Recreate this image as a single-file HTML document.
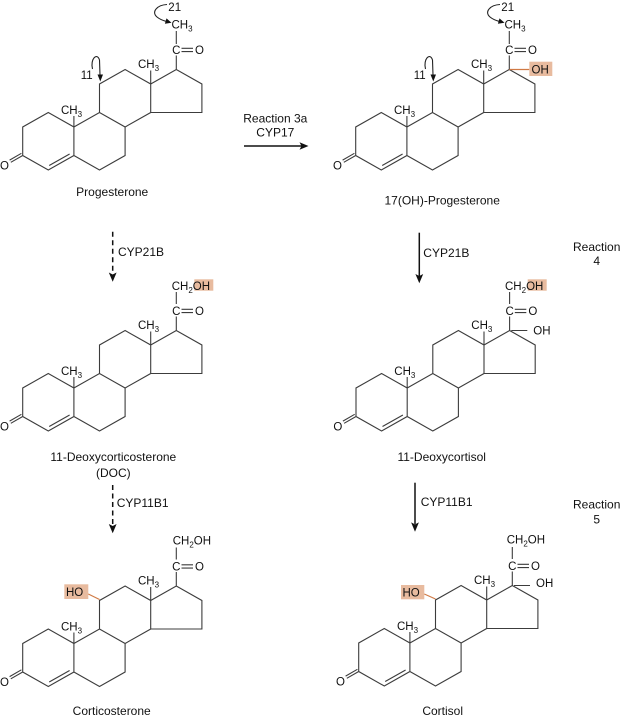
<!DOCTYPE html>
<html><head><meta charset="utf-8"><style>
html,body{margin:0;padding:0;background:#fff;}
svg{display:block;}
text{font-family:"Liberation Sans",Arial,sans-serif;fill:#111;}
.at{font-size:11.5px;}
.lb{font-size:12px;}
.sk{fill:none;stroke:#3c3c3c;stroke-width:1.1;stroke-linejoin:miter;}
.ar{fill:none;stroke:#111;stroke-width:1.5;}
.cv{fill:none;stroke:#222;stroke-width:1.1;}
.hl{fill:#e8bb9f;}
.ol{stroke:#d07a45;stroke-width:1.2;fill:none;}
</style></head><body>
<svg width="622" height="718" viewBox="0 0 622 718" xmlns="http://www.w3.org/2000/svg">

<!-- M1 Progesterone -->
<g transform="translate(0,0)">
<path class="sk" d="M48.3,112.5 L22.7,127 L22.7,155.5 L48.3,170 L73.9,155.5 L73.9,127 Z M73.9,155.5 L99.5,170 L125.1,155.5 L125.1,127 L99.5,112.5 L73.9,127 M99.5,112.5 L99.5,84 L125.1,69.5 L150.7,84 L150.7,112.5 L125.1,127 M150.7,84 L176.3,69.5 L201.9,84 L201.9,112.5 L150.7,112.5 M73.9,127 L73.9,116 M150.7,84 L150.7,70.5 M176.3,69.5 L176.3,55.5 M49.2,165.5 L69.6,154 M22.7,155.5 L10.8,162.3 M21.4,153.3 L9.6,160.1 M181.5,48.3 L193,48.3 M181.5,51.6 L193,51.6 M176.3,44 L176.3,31"/>
<text class="at" x="61" y="114">CH<tspan font-size="8" dy="3">3</tspan></text>
<text class="at" x="138" y="68">CH<tspan font-size="8" dy="3">3</tspan></text>
<text class="at" x="176.3" y="54" text-anchor="middle">C</text>
<text class="at" x="199.5" y="54" text-anchor="middle">O</text>
<text class="at" x="4.5" y="169.6" text-anchor="middle">O</text>
<text class="at" x="171.5" y="28.5">CH<tspan font-size="8" dy="3">3</tspan></text>
<text class="at" x="174.7" y="11" text-anchor="middle" font-size="11">21</text>
<path class="cv" d="M167,4.5 C157,5 151,12 157,17 C160,19.5 163,20.5 166,21.3"/>
<polygon points="171.5,22.8 164.9,23.8 166.5,18.4" fill="#111"/>
<text class="at" x="86.7" y="79" text-anchor="middle" font-size="11">11</text>
<path class="cv" d="M92.5,69 C90,59 97,52 99.5,60 L100,75"/>
<polygon points="100.3,81.5 97.5,74.5 103,74.5" fill="#111"/>
</g>

<!-- M2 17(OH)-Progesterone -->
<g transform="translate(333,0)">
<path class="sk" d="M48.3,112.5 L22.7,127 L22.7,155.5 L48.3,170 L73.9,155.5 L73.9,127 Z M73.9,155.5 L99.5,170 L125.1,155.5 L125.1,127 L99.5,112.5 L73.9,127 M99.5,112.5 L99.5,84 L125.1,69.5 L150.7,84 L150.7,112.5 L125.1,127 M150.7,84 L176.3,69.5 L201.9,84 L201.9,112.5 L150.7,112.5 M73.9,127 L73.9,116 M150.7,84 L150.7,70.5 M176.3,69.5 L176.3,55.5 M49.2,165.5 L69.6,154 M22.7,155.5 L10.8,162.3 M21.4,153.3 L9.6,160.1 M181.5,48.3 L193,48.3 M181.5,51.6 L193,51.6 M176.3,44 L176.3,31"/>
<text class="at" x="61" y="114">CH<tspan font-size="8" dy="3">3</tspan></text>
<text class="at" x="138" y="68">CH<tspan font-size="8" dy="3">3</tspan></text>
<text class="at" x="176.3" y="54" text-anchor="middle">C</text>
<text class="at" x="199.5" y="54" text-anchor="middle">O</text>
<text class="at" x="4.5" y="169.6" text-anchor="middle">O</text>
<text class="at" x="171.5" y="28.5">CH<tspan font-size="8" dy="3">3</tspan></text>
<text class="at" x="174.7" y="11" text-anchor="middle" font-size="11">21</text>
<path class="cv" d="M167,4.5 C157,5 151,12 157,17 C160,19.5 163,20.5 166,21.3"/>
<polygon points="171.5,22.8 164.9,23.8 166.5,18.4" fill="#111"/>
<text class="at" x="86.7" y="79" text-anchor="middle" font-size="11">11</text>
<path class="cv" d="M92.5,69 C90,59 97,52 99.5,60 L100,75"/>
<polygon points="100.3,81.5 97.5,74.5 103,74.5" fill="#111"/>
<path class="ol" d="M176.3,69.5 L196.3,69.5"/>
<rect class="hl" x="196.3" y="61.7" width="23" height="14.3"/>
<text class="at" x="198.5" y="73.6">OH</text>
</g>

<!-- M3 DOC -->
<g transform="translate(0,261)">
<path class="sk" d="M48.3,112.5 L22.7,127 L22.7,155.5 L48.3,170 L73.9,155.5 L73.9,127 Z M73.9,155.5 L99.5,170 L125.1,155.5 L125.1,127 L99.5,112.5 L73.9,127 M99.5,112.5 L99.5,84 L125.1,69.5 L150.7,84 L150.7,112.5 L125.1,127 M150.7,84 L176.3,69.5 L201.9,84 L201.9,112.5 L150.7,112.5 M73.9,127 L73.9,116 M150.7,84 L150.7,70.5 M176.3,69.5 L176.3,55.5 M49.2,165.5 L69.6,154 M22.7,155.5 L10.8,162.3 M21.4,153.3 L9.6,160.1 M181.5,48.3 L193,48.3 M181.5,51.6 L193,51.6 M176.3,43 L176.3,31"/>
<text class="at" x="61" y="114">CH<tspan font-size="8" dy="3">3</tspan></text>
<text class="at" x="138" y="68">CH<tspan font-size="8" dy="3">3</tspan></text>
<text class="at" x="176.3" y="54" text-anchor="middle">C</text>
<text class="at" x="199.5" y="54" text-anchor="middle">O</text>
<text class="at" x="4.5" y="169.6" text-anchor="middle">O</text>
<rect class="hl" x="194.3" y="18.3" width="19" height="11.4"/>
<text class="at" x="171.7" y="29">CH<tspan font-size="8" dy="3">2</tspan><tspan dy="-3">OH</tspan></text>
</g>

<!-- M4 11-Deoxycortisol -->
<g transform="translate(333.3,261)">
<path class="sk" d="M48.3,112.5 L22.7,127 L22.7,155.5 L48.3,170 L73.9,155.5 L73.9,127 Z M73.9,155.5 L99.5,170 L125.1,155.5 L125.1,127 L99.5,112.5 L73.9,127 M99.5,112.5 L99.5,84 L125.1,69.5 L150.7,84 L150.7,112.5 L125.1,127 M150.7,84 L176.3,69.5 L201.9,84 L201.9,112.5 L150.7,112.5 M73.9,127 L73.9,116 M150.7,84 L150.7,70.5 M176.3,69.5 L176.3,55.5 M49.2,165.5 L69.6,154 M22.7,155.5 L10.8,162.3 M21.4,153.3 L9.6,160.1 M181.5,48.3 L193,48.3 M181.5,51.6 L193,51.6 M176.3,43 L176.3,31 M178,69.5 L194,69.5"/>
<text class="at" x="61" y="114">CH<tspan font-size="8" dy="3">3</tspan></text>
<text class="at" x="138" y="68">CH<tspan font-size="8" dy="3">3</tspan></text>
<text class="at" x="176.3" y="54" text-anchor="middle">C</text>
<text class="at" x="199.5" y="54" text-anchor="middle">O</text>
<text class="at" x="4.5" y="169.6" text-anchor="middle">O</text>
<text class="at" x="200" y="73.5">OH</text>
<rect class="hl" x="194.4" y="18.3" width="19" height="11.4"/>
<text class="at" x="171.7" y="29">CH<tspan font-size="8" dy="3">2</tspan><tspan dy="-3">OH</tspan></text>
</g>

<!-- M5 Corticosterone -->
<g transform="translate(0,516.5)">
<path class="sk" d="M48.3,112.5 L22.7,127 L22.7,155.5 L48.3,170 L73.9,155.5 L73.9,127 Z M73.9,155.5 L99.5,170 L125.1,155.5 L125.1,127 L99.5,112.5 L73.9,127 M99.5,112.5 L99.5,84 L125.1,69.5 L150.7,84 L150.7,112.5 L125.1,127 M150.7,84 L176.3,69.5 L201.9,84 L201.9,112.5 L150.7,112.5 M73.9,127 L73.9,116 M150.7,84 L150.7,70.5 M176.3,69.5 L176.3,55.5 M49.2,165.5 L69.6,154 M22.7,155.5 L10.8,162.3 M21.4,153.3 L9.6,160.1 M181.5,48.3 L193,48.3 M181.5,51.6 L193,51.6 M176.3,43 L176.3,31"/>
<text class="at" x="61" y="114">CH<tspan font-size="8" dy="3">3</tspan></text>
<text class="at" x="138" y="68">CH<tspan font-size="8" dy="3">3</tspan></text>
<text class="at" x="176.3" y="54" text-anchor="middle">C</text>
<text class="at" x="199.5" y="54" text-anchor="middle">O</text>
<text class="at" x="4.5" y="169.6" text-anchor="middle">O</text>
<text class="at" x="172.7" y="28">CH<tspan font-size="8" dy="3">2</tspan><tspan dy="-3">OH</tspan></text>
<rect class="hl" x="64.3" y="67.8" width="24" height="14.7"/>
<text class="at" x="66" y="79.3">HO</text>
<path class="ol" d="M88.3,77.5 L99.5,83"/>
</g>

<!-- M6 Cortisol -->
<g transform="translate(336,516)">
<path class="sk" d="M48.3,112.5 L22.7,127 L22.7,155.5 L48.3,170 L73.9,155.5 L73.9,127 Z M73.9,155.5 L99.5,170 L125.1,155.5 L125.1,127 L99.5,112.5 L73.9,127 M99.5,112.5 L99.5,84 L125.1,69.5 L150.7,84 L150.7,112.5 L125.1,127 M150.7,84 L176.3,69.5 L201.9,84 L201.9,112.5 L150.7,112.5 M73.9,127 L73.9,116 M150.7,84 L150.7,70.5 M176.3,69.5 L176.3,55.5 M49.2,165.5 L69.6,154 M22.7,155.5 L10.8,162.3 M21.4,153.3 L9.6,160.1 M181.5,48.3 L193,48.3 M181.5,51.6 L193,51.6 M176.3,43 L176.3,31 M178,69.5 L194,69.5"/>
<text class="at" x="61" y="114">CH<tspan font-size="8" dy="3">3</tspan></text>
<text class="at" x="138" y="68">CH<tspan font-size="8" dy="3">3</tspan></text>
<text class="at" x="176.3" y="54" text-anchor="middle">C</text>
<text class="at" x="199.5" y="54" text-anchor="middle">O</text>
<text class="at" x="4.5" y="169.6" text-anchor="middle">O</text>
<text class="at" x="200" y="71">OH</text>
<text class="at" x="170.7" y="27.5">CH<tspan font-size="8" dy="3">2</tspan><tspan dy="-3">OH</tspan></text>
<rect class="hl" x="65" y="69" width="23.3" height="14.3"/>
<text class="at" x="66.5" y="80.3">HO</text>
<path class="ol" d="M88.3,78 L99.5,83"/>
</g>

<!-- Labels -->
<text class="lb" x="112.2" y="196" text-anchor="middle">Progesterone</text>
<text class="lb" x="442.2" y="204.3" text-anchor="middle">17(OH)-Progesterone</text>
<text class="lb" x="113.3" y="461" text-anchor="middle">11-Deoxycorticosterone</text>
<text class="lb" x="113.3" y="477" text-anchor="middle">(DOC)</text>
<text class="lb" x="441.7" y="461" text-anchor="middle">11-Deoxycortisol</text>
<text class="lb" x="111.7" y="715" text-anchor="middle">Corticosterone</text>
<text class="lb" x="442.7" y="715" text-anchor="middle">Cortisol</text>

<!-- Reaction 3a arrow -->
<text class="lb" x="275.3" y="122.3" text-anchor="middle">Reaction 3a</text>
<text class="lb" x="275.3" y="136.3" text-anchor="middle">CYP17</text>
<line class="ar" x1="244" y1="146" x2="302" y2="146"/>
<polygon points="308.5,146 299.5,142.2 301.5,146 299.5,149.8" fill="#111"/>

<!-- Left dashed arrows -->
<line class="ar" x1="112.7" y1="231.7" x2="112.7" y2="273" stroke-dasharray="5,3.5"/>
<polygon points="112.7,281.7 108.8,272.5 112.7,274.5 116.6,272.5" fill="#111"/>
<text class="lb" x="118" y="256">CYP21B</text>

<line class="ar" x1="112.7" y1="485" x2="112.7" y2="525" stroke-dasharray="5,3.5"/>
<polygon points="112.7,533.3 108.8,524 112.7,526 116.6,524" fill="#111"/>
<text class="lb" x="116.7" y="507">CYP11B1</text>

<!-- Right solid arrows -->
<line class="ar" x1="419.3" y1="232.7" x2="419.3" y2="276"/>
<polygon points="419.3,283.3 415.4,274 419.3,276 423.2,274" fill="#111"/>
<text class="lb" x="423.3" y="257">CYP21B</text>
<text class="lb" x="596.7" y="251" text-anchor="middle">Reaction</text>
<text class="lb" x="596.7" y="265" text-anchor="middle">4</text>

<line class="ar" x1="415" y1="482.7" x2="415" y2="524"/>
<polygon points="415,531.7 411.1,522.4 415,524.4 418.9,522.4" fill="#111"/>
<text class="lb" x="420.7" y="506">CYP11B1</text>
<text class="lb" x="596.7" y="508.3" text-anchor="middle">Reaction</text>
<text class="lb" x="596.7" y="523.3" text-anchor="middle">5</text>
</svg>
</body></html>
